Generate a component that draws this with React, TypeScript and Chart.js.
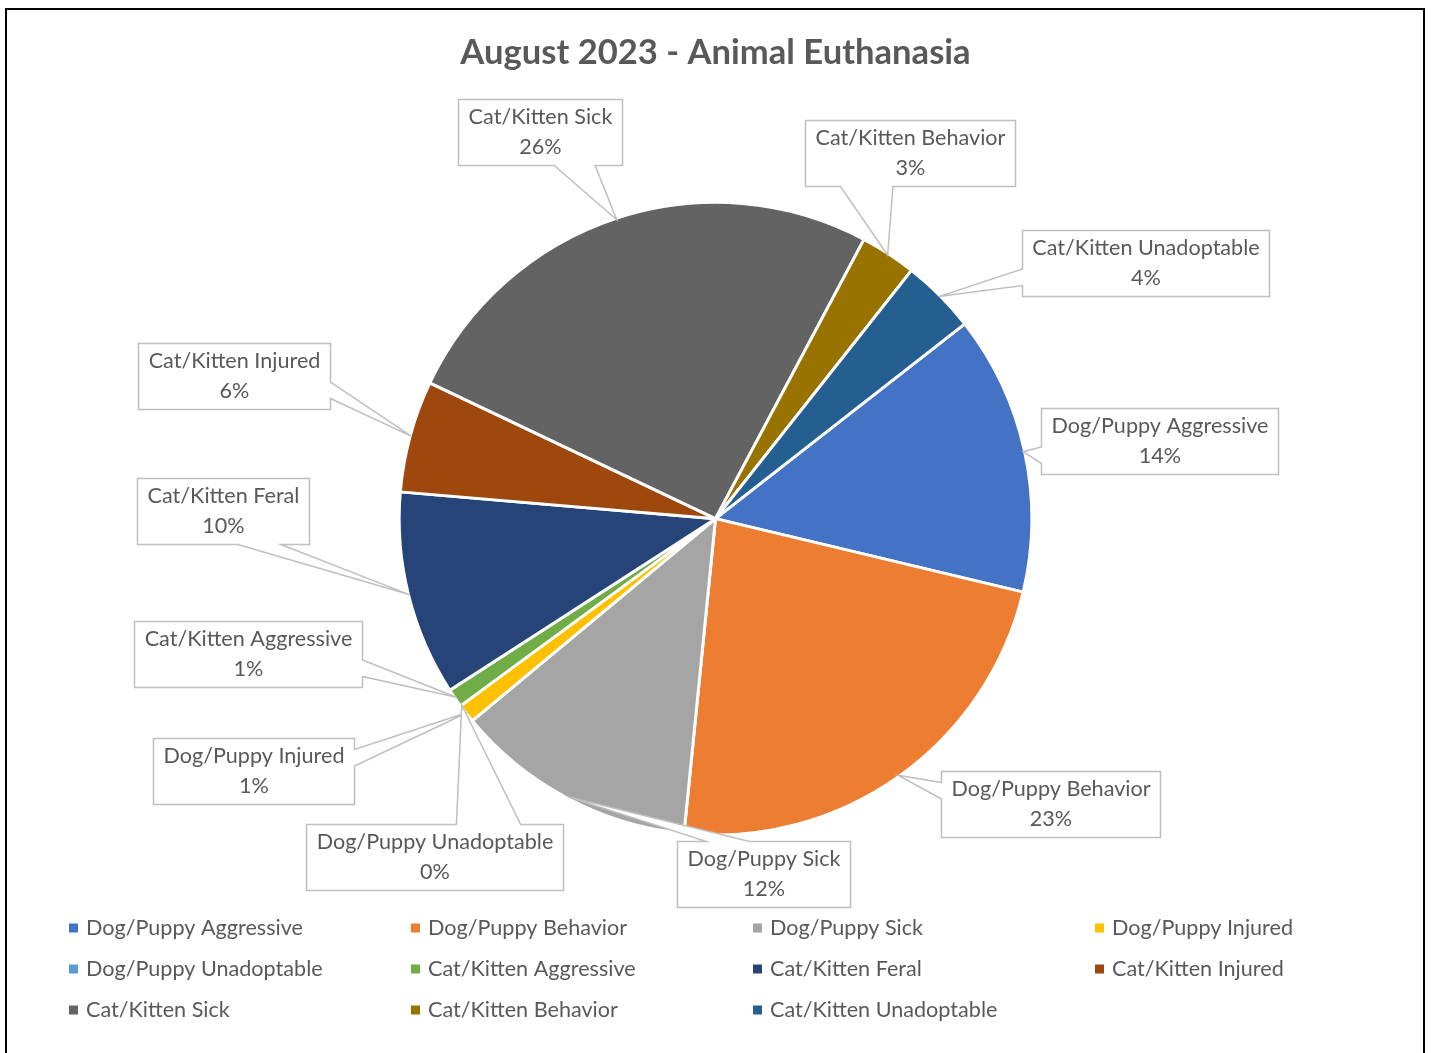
import React, { useEffect, useRef } from "react";
import { Chart, registerables } from "chart.js";

Chart.register(...registerables);

// ---- data ----
const categories = [
  "Dog/Puppy Aggressive",
  "Dog/Puppy Behavior",
  "Dog/Puppy Sick",
  "Dog/Puppy Injured",
  "Dog/Puppy Unadoptable",
  "Cat/Kitten Aggressive",
  "Cat/Kitten Feral",
  "Cat/Kitten Injured",
  "Cat/Kitten Sick",
  "Cat/Kitten Behavior",
  "Cat/Kitten Unadoptable",
];
const counts = [15, 24, 13, 1, 0, 1, 11, 6, 27, 3, 4];
const sliceColors = [
  "#4472C4",
  "#ED7D31",
  "#A5A5A5",
  "#FFC000",
  "#5B9BD5",
  "#70AD47",
  "#264478",
  "#9E480E",
  "#636363",
  "#997300",
  "#255E91",
];
const titleText = "August 2023 - Animal Euthanasia";

// ---- layout (label box centres, offset from pie centre in px) ----
const labelOffsets: [number, number][] = [
  [444, -77.5],
  [335, 285.5],
  [47.5, 355.5],
  [-462, 252.5],
  [-281, 338.5],
  [-467.5, 135.5],
  [-493, -7.5],
  [-481.5, -142.5],
  [-175.5, -386.5],
  [194.5, -365.5],
  [429.5, -255.5],
];

const TEXT_COLOR = "#595959";
const FONT_FAMILY = "Lato";
const LABEL_FONT = `21.6px ${FONT_FAMILY}`;
const LABEL_PAD = 10;
const LABEL_H = 66;
const LINE_GAP = 15;

const calloutPlugin = {
  id: "callouts",
  afterDatasetsDraw(chart: any) {
    const meta = chart.getDatasetMeta(0);
    const ctx: CanvasRenderingContext2D = chart.ctx;
    const total = counts.reduce((a, b) => a + b, 0);
    ctx.save();
    meta.data.forEach((arc: any, i: number) => {
      const p = arc.getProps(["x", "y", "startAngle", "endAngle", "outerRadius"], true);
      const mid = (p.startAngle + p.endAngle) / 2;
      const r = p.outerRadius - 1.5;
      const tx = p.x + Math.cos(mid) * r;
      const ty = p.y + Math.sin(mid) * r;
      const cx = p.x + labelOffsets[i][0];
      const cy = p.y + labelOffsets[i][1];
      ctx.font = LABEL_FONT;
      const line1 = categories[i];
      const line2 = Math.round((counts[i] / total) * 100) + "%";
      const tw = Math.max(ctx.measureText(line1).width, ctx.measureText(line2).width);
      const w = Math.round(tw + 2 * LABEL_PAD);
      const h = LABEL_H;
      const L = Math.round(cx - w / 2) + 0.5;
      const T = Math.round(cy - h / 2) + 0.5;
      const R = L + w;
      const B = T + h;
      const dxPos = tx - (L + w / 2);
      const dyPos = ty - (T + h / 2);
      const inside = Math.abs(dxPos) < w / 2 && Math.abs(dyPos) < h / 2;
      const horiz = Math.abs((dxPos * h) / w) > Math.abs(dyPos);
      const side = inside ? "none" : horiz ? (dxPos > 0 ? "right" : "left") : dyPos > 0 ? "bottom" : "top";
      const x1 = L + (w * (dxPos > 0 ? 7 : 2)) / 12;
      const x2 = L + (w * (dxPos > 0 ? 10 : 5)) / 12;
      const y1 = T + (h * (dyPos > 0 ? 7 : 2)) / 12;
      const y2 = T + (h * (dyPos > 0 ? 10 : 5)) / 12;

      ctx.beginPath();
      ctx.moveTo(L, T);
      if (side === "top") {
        ctx.lineTo(x1, T);
        ctx.lineTo(tx, ty);
        ctx.lineTo(x2, T);
      }
      ctx.lineTo(R, T);
      if (side === "right") {
        ctx.lineTo(R, y1);
        ctx.lineTo(tx, ty);
        ctx.lineTo(R, y2);
      }
      ctx.lineTo(R, B);
      if (side === "bottom") {
        ctx.lineTo(x2, B);
        ctx.lineTo(tx, ty);
        ctx.lineTo(x1, B);
      }
      ctx.lineTo(L, B);
      if (side === "left") {
        ctx.lineTo(L, y2);
        ctx.lineTo(tx, ty);
        ctx.lineTo(L, y1);
      }
      ctx.closePath();
      ctx.fillStyle = "#FFFFFF";
      ctx.fill();
      ctx.lineWidth = 1.5;
      ctx.strokeStyle = "#BFBFBF";
      ctx.lineJoin = "miter";
      ctx.stroke();

      ctx.fillStyle = TEXT_COLOR;
      ctx.textAlign = "center";
      ctx.textBaseline = "middle";
      ctx.fillText(line1, L + w / 2, T + h / 2 - LINE_GAP);
      ctx.fillText(line2, L + w / 2, T + h / 2 + LINE_GAP);
    });
    ctx.restore();
  },
};

const legendPlugin = {
  id: "gridLegend",
  afterDraw(chart: any) {
    const ctx: CanvasRenderingContext2D = chart.ctx;
    const cols = 4;
    const colW = 342;
    const rowH = 41;
    const x0 = 69;
    const y0 = 928;
    const box = 9;
    ctx.save();
    ctx.font = LABEL_FONT;
    ctx.textAlign = "left";
    ctx.textBaseline = "middle";
    categories.forEach((name, i) => {
      const col = i % cols;
      const row = Math.floor(i / cols);
      const sx = x0 + col * colW;
      const sy = y0 + row * rowH;
      ctx.fillStyle = sliceColors[i];
      ctx.fillRect(sx, sy - box / 2, box, box);
      ctx.fillStyle = TEXT_COLOR;
      ctx.fillText(name, sx + 17, sy);
    });
    ctx.restore();
  },
};

export default function App() {
  const ref = useRef<HTMLCanvasElement>(null);
  useEffect(() => {
    if (!ref.current) return;
    Chart.defaults.font.family = FONT_FAMILY;
    const chart = new Chart(ref.current, {
      type: "pie",
      data: {
        labels: categories,
        datasets: [
          {
            data: counts,
            backgroundColor: sliceColors,
            borderColor: "#FFFFFF",
            borderWidth: 3,
          },
        ],
      },
      options: {
        responsive: false,
        animation: false,
        rotation: 52,
        layout: { padding: { top: 0, bottom: 216.5, left: 0, right: 0 } },
        plugins: {
          legend: { display: false },
          tooltip: { enabled: false },
          title: {
            display: true,
            text: titleText,
            color: TEXT_COLOR,
            font: { family: FONT_FAMILY, size: 34.6, weight: "bold", lineHeight: 1.2 },
            padding: { top: 32.5, bottom: 126.8 },
          },
        },
      },
      plugins: [calloutPlugin, legendPlugin],
    });
    return () => chart.destroy();
  }, []);
  return (
    <div>
      <div
        style={{
          position: "fixed",
          left: 5,
          top: 8,
          width: 1416,
          height: 1100,
          border: "2px solid #000",
          background: "#fff",
        }}
      />
      <canvas
        ref={ref}
        width={1431}
        height={1053}
        style={{ position: "fixed", left: 0, top: 0, width: 1431, height: 1053 }}
      />
    </div>
  );
}
